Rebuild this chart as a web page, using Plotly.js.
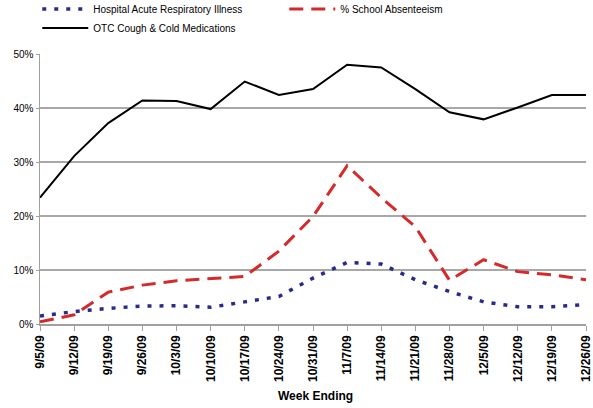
<!DOCTYPE html>
<html>
<head>
<meta charset="utf-8">
<script src="https://cdn.plot.ly/plotly-3.0.1.min.js"></script>
<style>html,body{margin:0;padding:0;background:#fff;}#chart{width:593px;height:408px;}</style>
</head>
<body>
<div id="chart"></div>
<script>
const weeks = ["9/5/09","9/12/09","9/19/09","9/26/09","10/3/09","10/10/09","10/17/09","10/24/09","10/31/09","11/7/09","11/14/09","11/21/09","11/28/09","12/5/09","12/12/09","12/19/09","12/26/09"];
const hospitalARI = [0.015,0.023,0.029,0.033,0.034,0.031,0.041,0.051,0.085,0.114,0.111,0.082,0.060,0.041,0.032,0.032,0.036];
const schoolAbsent = [0.004,0.017,0.059,0.072,0.080,0.084,0.088,0.135,0.199,0.293,0.234,0.180,0.081,0.119,0.097,0.091,0.082];
const otcMeds = [0.234,0.311,0.372,0.414,0.413,0.398,0.449,0.424,0.435,0.480,0.475,0.435,0.392,0.379,0.401,0.424,0.424];
const xTitle = "Week Ending";

const traces = [
  {x: weeks, y: hospitalARI, name: "Hospital Acute Respiratory Illness", type: "scatter", mode: "lines",
   line: {color: "#2a2a8c", width: 3.5, dash: "4px,8px"}},
  {x: weeks, y: schoolAbsent, name: "% School Absenteeism", type: "scatter", mode: "lines",
   line: {color: "#d42a2a", width: 3, dash: "14px,8px"}},
  {x: weeks, y: otcMeds, name: "OTC Cough & Cold Medications", type: "scatter", mode: "lines",
   line: {color: "#000000", width: 2}}
];

const layout = {
  width: 593, height: 408,
  margin: {l: 40, r: 7, t: 54, b: 84, autoexpand: false},
  paper_bgcolor: "#fff", plot_bgcolor: "#fff",
  font: {family: "Liberation Sans, Arial, sans-serif", size: 10, color: "#000"},
  showlegend: true,
  legend: {orientation: "h", x: -0.005, xanchor: "left", y: 1.22, yanchor: "top",
           entrywidth: 186, itemwidth: 46, font: {size: 10}, tracegroupgap: 0, itemsizing: "trace"},
  xaxis: {type: "category", range: [0, 16], tickangle: -90, tickfont: {size: 12, weight: "bold"},
          showline: true, linecolor: "#a0a0a0", linewidth: 1.5, ticks: "outside", ticklen: 5,
          tickcolor: "#a0a0a0", showgrid: false, zeroline: false},
  yaxis: {range: [0, 0.5], tickvals: [0,0.1,0.2,0.3,0.4,0.5], tickformat: ".0%",
          showline: true, linecolor: "#a0a0a0", linewidth: 1.5, ticks: "outside", ticklen: 3,
          tickcolor: "#a0a0a0", showgrid: true, gridcolor: "#a8a8a8", gridwidth: 1.5, zeroline: false,
          tickfont: {size: 10}},
  annotations: [{text: "<b>" + xTitle + "</b>", xref: "paper", yref: "paper", x: 0.505, y: 0,
                 xanchor: "center", yanchor: "top", yshift: -63, showarrow: false, font: {size: 12}}]
};

Plotly.newPlot("chart", traces, layout, {displayModeBar: false, staticPlot: true});
</script>
</body>
</html>
